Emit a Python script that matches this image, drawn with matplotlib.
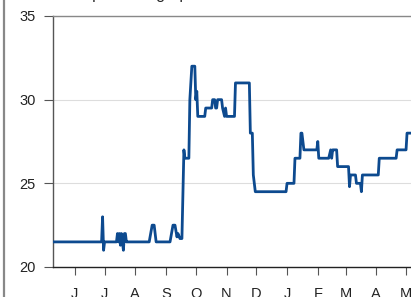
import matplotlib
matplotlib.use("Agg")
import matplotlib.pyplot as plt
import pandas as pd
from matplotlib.lines import Line2D

plt.rcParams['font.family'] = ['Liberation Sans', 'DejaVu Sans']

title = "Temperature graph"

dates = [
    "2013-05-10", "2013-06-28", "2013-06-29", "2013-06-30", "2013-07-01",
    "2013-07-13", "2013-07-14", "2013-07-15", "2013-07-16", "2013-07-17",
    "2013-07-18", "2013-07-19", "2013-07-20", "2013-07-21", "2013-07-22",
    "2013-07-23", "2013-07-24", "2013-07-27",
    "2013-08-15", "2013-08-18", "2013-08-20", "2013-08-22",
    "2013-09-05", "2013-09-08", "2013-09-10", "2013-09-12", "2013-09-13",
    "2013-09-15", "2013-09-17", "2013-09-19", "2013-09-20",
    "2013-09-21", "2013-09-24", "2013-09-25", "2013-09-27", "2013-09-30",
    "2013-10-01", "2013-10-02", "2013-10-03", "2013-10-10", "2013-10-11",
    "2013-10-17", "2013-10-18", "2013-10-20", "2013-10-21", "2013-10-22",
    "2013-10-23", "2013-10-27", "2013-10-28", "2013-10-30", "2013-10-31",
    "2013-11-01", "2013-11-02", "2013-11-09", "2013-11-10", "2013-11-24",
    "2013-11-25", "2013-11-27", "2013-11-28", "2013-11-30",
    "2013-12-31", "2014-01-01", "2014-01-08", "2014-01-09",
    "2014-01-14", "2014-01-15", "2014-01-16", "2014-01-18",
    "2014-01-31", "2014-02-01", "2014-02-02", "2014-02-12",
    "2014-02-14", "2014-02-15", "2014-02-16", "2014-02-17", "2014-02-20",
    "2014-02-21", "2014-03-04", "2014-03-05", "2014-03-06", "2014-03-11",
    "2014-03-12", "2014-03-16", "2014-03-17", "2014-03-18", "2014-04-03",
    "2014-04-04", "2014-04-21", "2014-04-22", "2014-05-01", "2014-05-02",
    "2014-05-06",
]
values = [
    21.5, 21.5, 23.0, 21.0, 21.5,
    21.5, 22.0, 21.5, 22.0, 21.3,
    22.0, 21.5, 21.0, 22.0, 22.0,
    21.5, 21.5, 21.5,
    21.5, 22.5, 22.5, 21.5,
    21.5, 22.5, 22.5, 21.8, 22.0,
    21.7, 21.7, 27.0, 26.5,
    26.5, 26.5, 30.0, 32.0, 32.0,
    30.0, 30.5, 29.0, 29.0, 29.5,
    29.5, 30.0, 30.0, 29.5, 29.5,
    30.0, 30.0, 29.5, 29.0, 29.5,
    29.0, 29.0, 29.0, 31.0, 31.0,
    28.0, 28.0, 25.5, 24.5,
    24.5, 25.0, 25.0, 26.5,
    26.5, 28.0, 28.0, 27.0,
    27.0, 27.5, 26.5, 26.5,
    27.0, 26.5, 27.0, 27.0, 27.0,
    26.0, 26.0, 24.8, 25.5, 25.5,
    25.0, 25.0, 24.5, 25.5, 25.5,
    26.5, 26.5, 27.0, 27.0, 28.0,
    28.0,
]

month_starts = ["2013-06-01", "2013-07-01", "2013-08-01", "2013-09-01", "2013-10-01",
                "2013-11-01", "2013-12-01", "2014-01-01", "2014-02-01", "2014-03-01",
                "2014-04-01", "2014-05-01"]
month_labels = ["J", "J", "A", "S", "O", "N", "D", "J", "F", "M", "A", "M"]

W, H = 411, 297
fig = plt.figure(figsize=(W / 100, H / 100), dpi=100)
ax = fig.add_axes([53 / W, 30 / H, 1 - 53 / W, 251 / H])

x = pd.to_datetime(dates)
ax.plot(x, values, color="#0d4a8f", lw=2.0, solid_joinstyle="round", zorder=3)

ax.set_xlim(pd.Timestamp("2013-05-10"), pd.Timestamp("2014-05-06"))
ax.set_ylim(20, 35)
ax.set_yticks([20, 25, 30, 35])
ax.set_xticks(pd.to_datetime(month_starts))
ax.set_xticklabels(month_labels)

ax.grid(axis="y", color="#dddddd", lw=0.8, zorder=0)
ax.grid(axis="x", visible=False)
ax.spines["right"].set_visible(False)
ax.spines["top"].set_color("#888888")
ax.spines["top"].set_linewidth(1.0)
ax.spines["left"].set_color("#555555")
ax.spines["left"].set_linewidth(1.0)
ax.spines["bottom"].set_color("#222222")
ax.spines["bottom"].set_linewidth(1.0)

ax.tick_params(axis="y", direction="out", length=6.5, width=0.8, color="#555555",
               pad=6, labelsize=10.5, labelcolor="#222222")
ax.tick_params(axis="x", direction="out", length=6, width=0.8, color="#555555",
               pad=8.5, labelsize=10.5, labelcolor="#222222")

# outer left border of the chart frame
fig.add_artist(Line2D([3.5 / W, 3.5 / W], [0, 1], transform=fig.transFigure,
                      color="#888888", lw=1.6))
# title, mostly above the visible area
fig.text(62 / W, 1.0 + 1 / H, title, fontsize=11.5, ha="left", va="baseline",
         color="#222222")

fig.savefig("out.png", dpi=100)
